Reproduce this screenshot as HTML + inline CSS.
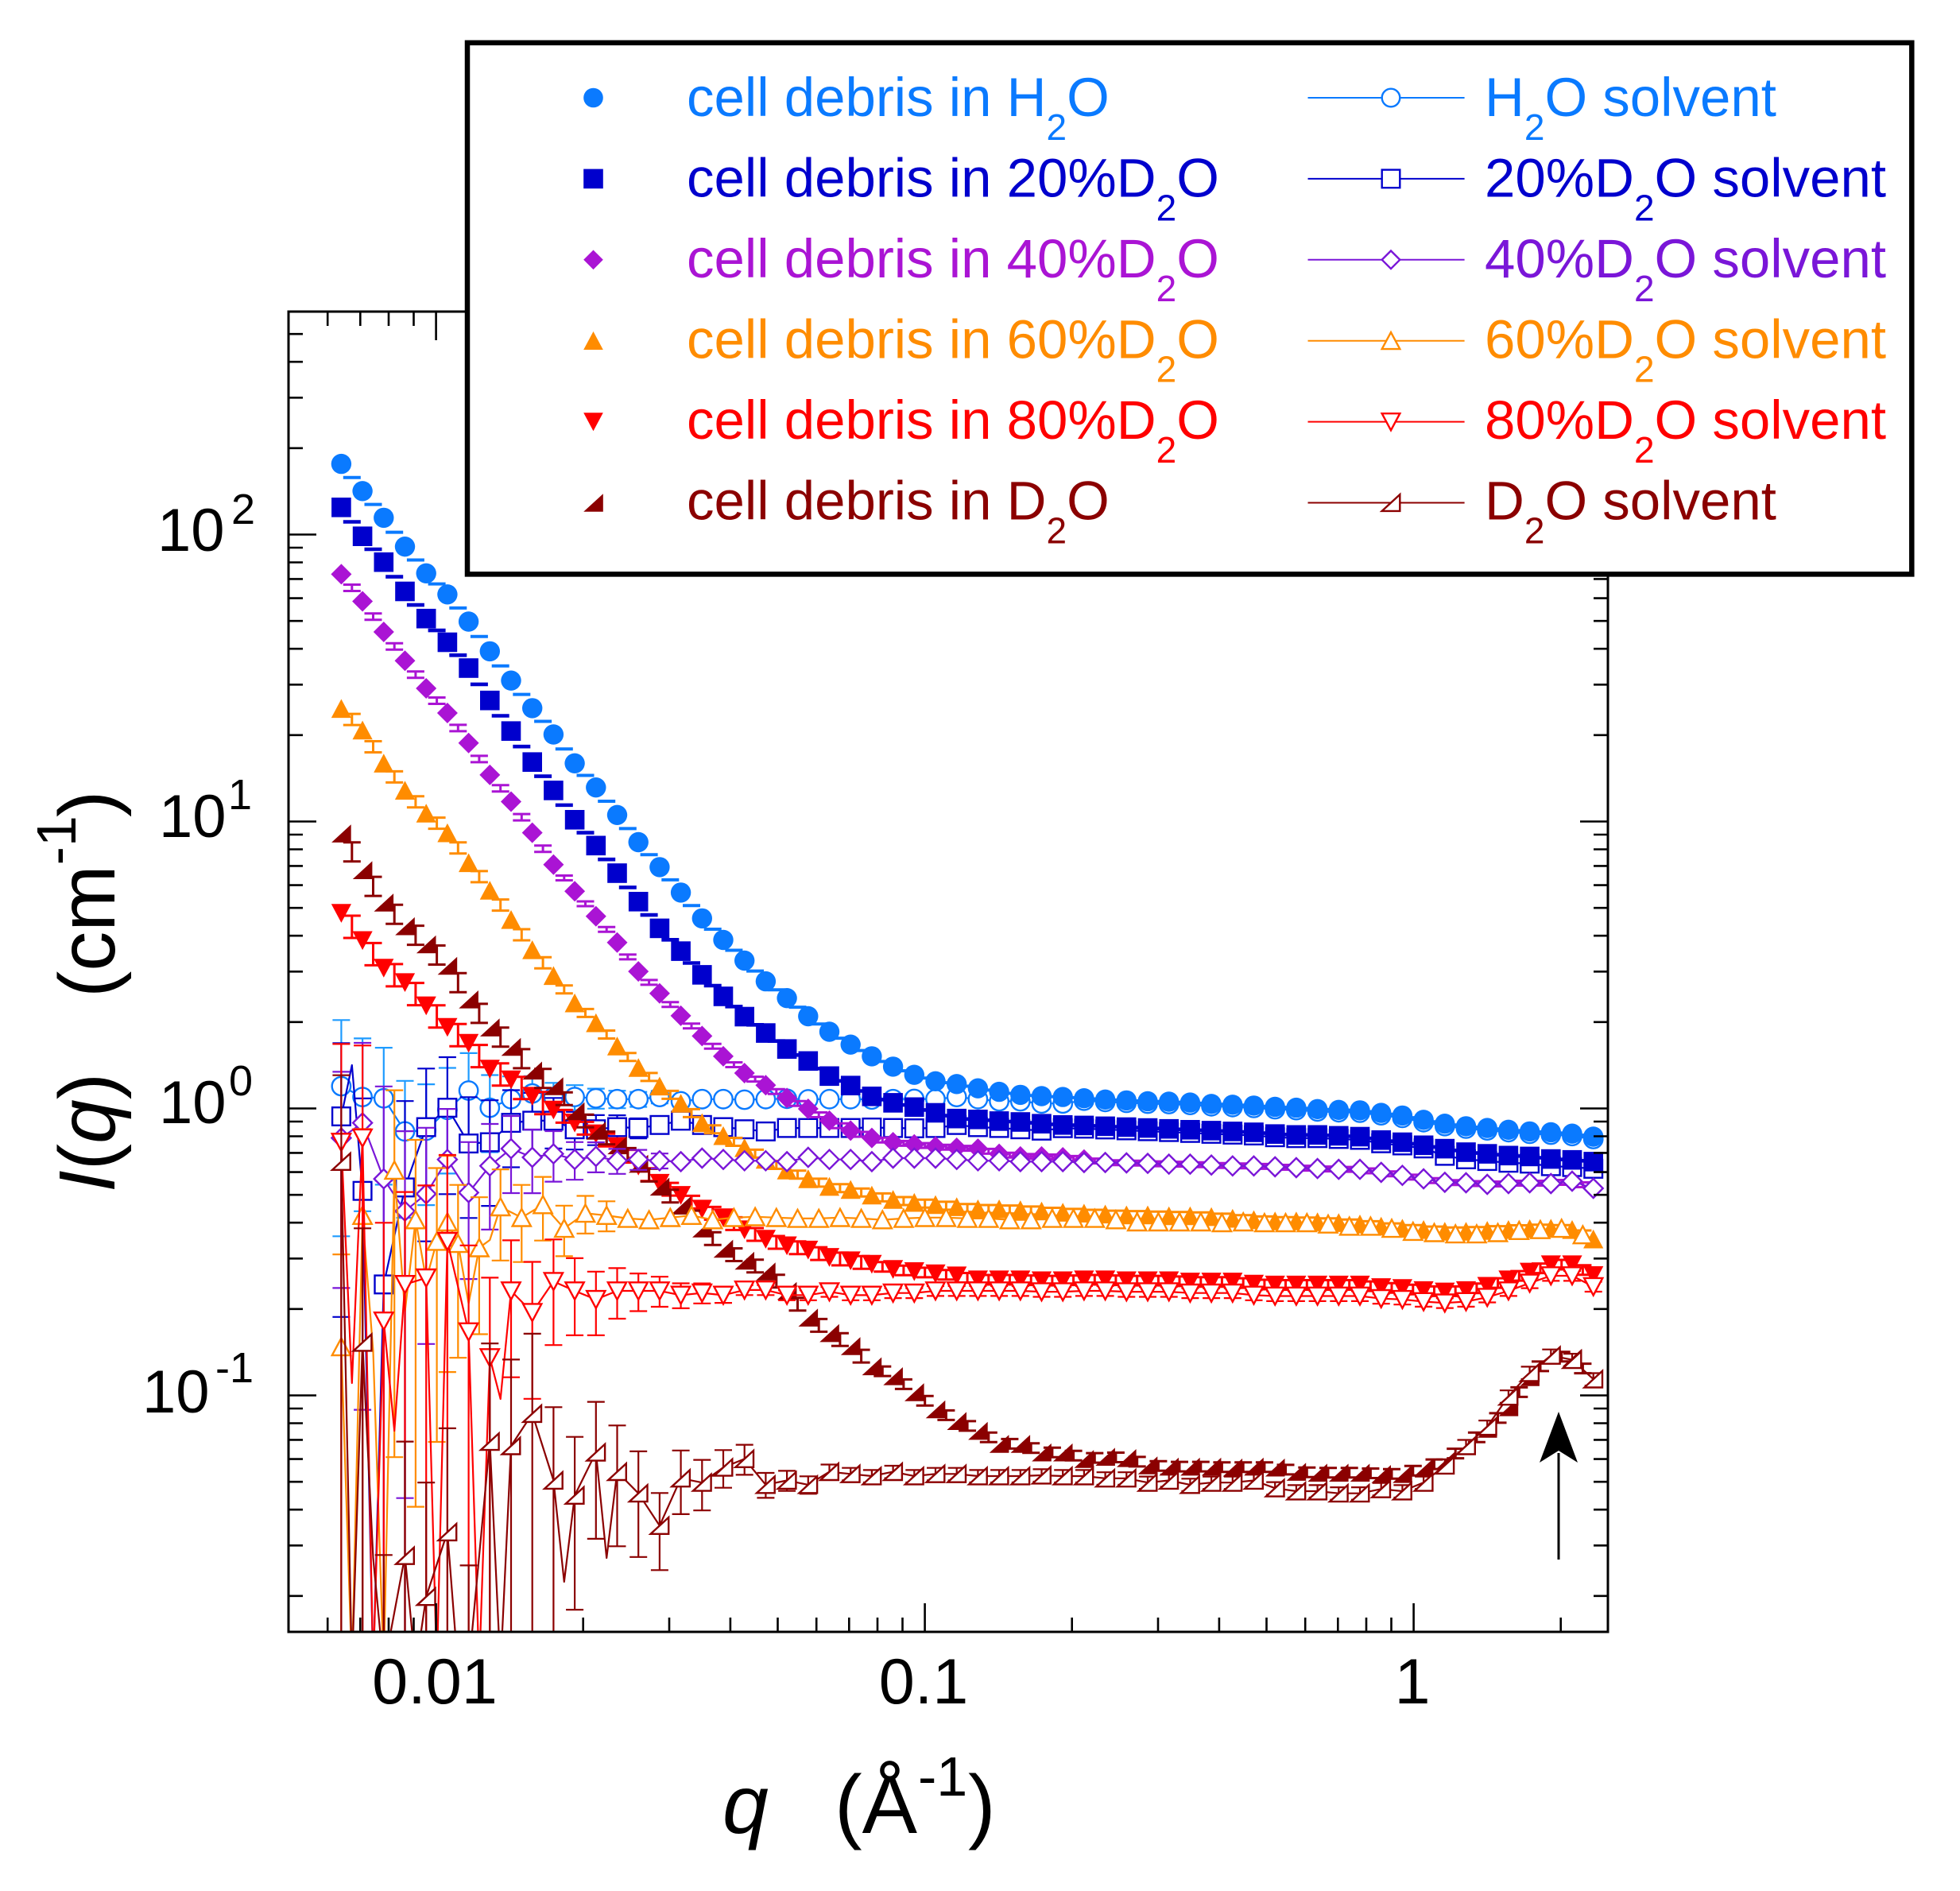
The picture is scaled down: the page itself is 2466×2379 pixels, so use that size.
<!DOCTYPE html>
<html><head><meta charset="utf-8"><title>SANS cell debris</title>
<style>
html,body{margin:0;padding:0;background:#fff;width:2466px;height:2379px;overflow:hidden}
svg{display:block}
text{font-family:"Liberation Sans",Arial,Helvetica,sans-serif}
</style></head><body>
<svg xmlns="http://www.w3.org/2000/svg" width="2466" height="2379" viewBox="0 0 2466 2379">
<defs><clipPath id="pc"><rect x="363" y="392" width="1660" height="1661"/></clipPath></defs>
<rect width="2466" height="2379" fill="#fff"/>
<g id="data" clip-path="url(#pc)"></g>
<g id="axes"></g>
<path d="M1961 1962V1828" stroke="#000" stroke-width="3" fill="none"/>
<polygon points="1961,1776 1985,1840 1961,1825 1937,1840" fill="#000"/>

<g fill="#000">
<text x="198" y="693" font-size="76">10</text><text x="291" y="659" font-size="54">2</text>
<text x="200" y="1053" font-size="76">10</text><text x="287" y="1018" font-size="54">1</text>
<text x="200" y="1413" font-size="76">10</text><text x="288" y="1378" font-size="54">0</text>
<text x="179" y="1777" font-size="76">10</text><text x="271" y="1739" font-size="54">-1</text>
<text x="547" y="2143" font-size="81" text-anchor="middle">0.01</text>
<text x="1162" y="2143" font-size="81" text-anchor="middle">0.1</text>
<text x="1777" y="2143" font-size="81" text-anchor="middle">1</text>
<text y="2306" font-size="104"><tspan x="909" font-style="italic">q</tspan><tspan x="1050">(Å</tspan><tspan x="1155" y="2259" font-size="70">-1</tspan><tspan x="1218" y="2306" font-size="104">)</tspan></text>
<g transform="translate(144,1500) rotate(-90)"><text y="0" font-size="100"><tspan x="0" font-style="italic">I</tspan><tspan>(</tspan><tspan font-style="italic">q</tspan><tspan>)</tspan><tspan x="245">(cm</tspan><tspan font-size="70" dy="-49">-1</tspan><tspan x="472" dy="49" font-size="100">)</tspan></text></g>
</g>

<g id="legend">
<rect x="588" y="53.8" width="1817.3" height="668.6" fill="#fff" stroke="#000" stroke-width="6.5"/>
<g id="legmk"></g>
<g font-size="69">
<text x="864" y="145.8" fill="#0a7aff">cell debris in H<tspan dy="30" font-size="46">2</tspan><tspan dy="-30">O</tspan></text>
<text x="864" y="247.3" fill="#0000cd">cell debris in 20%D<tspan dy="30" font-size="46">2</tspan><tspan dy="-30">O</tspan></text>
<text x="864" y="348.8" fill="#aa14d4">cell debris in 40%D<tspan dy="30" font-size="46">2</tspan><tspan dy="-30">O</tspan></text>
<text x="864" y="450.3" fill="#ff8c00">cell debris in 60%D<tspan dy="30" font-size="46">2</tspan><tspan dy="-30">O</tspan></text>
<text x="864" y="551.8" fill="#ff0000">cell debris in 80%D<tspan dy="30" font-size="46">2</tspan><tspan dy="-30">O</tspan></text>
<text x="864" y="653.3" fill="#8b0000">cell debris in D<tspan dy="30" font-size="46">2</tspan><tspan dy="-30">O</tspan></text>
<text x="1868" y="145.8" fill="#0a7aff">H<tspan dy="30" font-size="46">2</tspan><tspan dy="-30">O solvent</tspan></text>
<text x="1868" y="247.3" fill="#0000cd">20%D<tspan dy="30" font-size="46">2</tspan><tspan dy="-30">O solvent</tspan></text>
<text x="1868" y="348.8" fill="#7a16d8">40%D<tspan dy="30" font-size="46">2</tspan><tspan dy="-30">O solvent</tspan></text>
<text x="1868" y="450.3" fill="#ff8c00">60%D<tspan dy="30" font-size="46">2</tspan><tspan dy="-30">O solvent</tspan></text>
<text x="1868" y="551.8" fill="#ff0000">80%D<tspan dy="30" font-size="46">2</tspan><tspan dy="-30">O solvent</tspan></text>
<text x="1868" y="653.3" fill="#8b0000">D<tspan dy="30" font-size="46">2</tspan><tspan dy="-30">O solvent</tspan></text>
</g>
</g>
</svg>
<script>
(function(){
const NS='http://www.w3.org/2000/svg';
function E(t,a,p){const e=document.createElementNS(NS,t);for(const k in a)e.setAttribute(k,a[k]);p.appendChild(e);return e;}
const XL=363,XR=2023,YT=392,YB=2053;
const LX=v=>1778.6+615*Math.log10(v),LY=v=>1394.5-361*Math.log10(v);
const X0=429.4,DX=26.7,px=i=>X0+DX*i;
const data=document.getElementById('data'),axes=document.getElementById('axes'),legmk=document.getElementById('legmk');
function f(v){return (Math.round(v*10)/10).toString();}
const SZ={o:12.7,s:12.3,d:13,t:12.6,v:12.6,r:12.3};
function mk(g,t,x,y,c,open,s){
 s=s||SZ[t];
 const a=open?{fill:'#fff',stroke:c,'stroke-width':2.4}:{fill:c};
 const h=open?s-1:s;
 if(t==='o'){E('circle',Object.assign({cx:f(x),cy:f(y),r:h},a),g);return;}
 if(t==='s'){E('rect',Object.assign({x:f(x-h),y:f(y-h),width:f(2*h),height:f(2*h)},a),g);return;}
 let p;
 if(t==='d')p=[[0,-h],[h,0],[0,h],[-h,0]];
 else if(t==='t')p=[[-h,h*0.92],[h,h*0.92],[0,-h*0.95]];
 else if(t==='v')p=[[-h,-h*0.92],[h,-h*0.92],[0,h*0.95]];
 else p=[[-h,h*0.92],[h,h*0.92],[h,-h*0.92]];
 E('polygon',Object.assign({points:p.map(q=>f(x+q[0])+','+f(y+q[1])).join(' ')},a),g);
}
// axes
let d='';
for(let n=-3;n<=0;n++)for(let k=1;k<=9;k++){const x=LX(k*Math.pow(10,n));if(x<XL+2||x>XR-2)continue;const L=k==1?36:18;d+='M'+f(x)+' '+YB+'v'+(-L)+'M'+f(x)+' '+YT+'v'+L;}
for(let n=-2;n<=2;n++)for(let k=1;k<=9;k++){const y=LY(k*Math.pow(10,n));if(y<YT+2||y>YB-2)continue;const L=k==1?35:18;d+='M'+XL+' '+f(y)+'h'+L+'M'+XR+' '+f(y)+'h'+(-L);}
E('path',{d:d,stroke:'#000','stroke-width':2.6,fill:'none'},axes);
E('rect',{x:XL,y:YT,width:XR-XL,height:YB-YT,fill:'none',stroke:'#000','stroke-width':3},axes);

// data
const HS=[583.6,617.8,651.4,687.7,721.3,747.8,782.0,819.4,856.2,890.9,924.0,960.3,990.7,1025.3,1059.5,1090.9,1122.9,1155.4,1182.5,1208.5,1234.6,1255.7,1278.5,1298.0,1314.2,1328.9,1341.9,1352.2,1360.3,
1363.8,1369.2,1373.6,1377.4,1379.0,1380.1,1381.7,1383.3,1384.4,1385.5,1386.0,1387.1,1388.8,1389.8,1390.9,1392.5,1393.6,1395.3,1396.3,1396.9,1400.1,1403.4,1408.8,1413.7,1416.9,1419.1,1421.3,1423.4,1424.5,1426.2,1430.0];
const S20=[638.3,674.7,707.2,744.0,778.2,808.0,840.5,881.2,919.7,958.7,994.4,1031.3,1063.8,1098.5,1134.3,1167.9,1196.6,1226.4,1253.5,1279.0,1299.6,1319.7,1334.8,1353.8,1365.7,1379.3,1387.4,1392.8,1400.0,
1407.2,1408.3,1410.4,1411.5,1413.7,1415.3,1415.9,1416.9,1418.0,1419.1,1420.2,1421.3,1422.4,1423.4,1424.5,1426.7,1427.8,1427.8,1428.9,1430.0,1434.3,1437.0,1440.8,1445.1,1449.5,1451.6,1453.8,1454.9,1458.1,1459.2,1461.4];
const O40=[1431.6,1412.6,1483.1,1523.7,1502.0,1458.7,1500.4,1466.8,1445.1,1456.0,1451.6,1458.7,1454.9,1460.3,1458.7,1460.3,1461.4,1457.0,1458.7,1460.3,1460.3,1461.4,1456.0,1458.7,1458.7,1461.4,1457.0,1457.0,1457.0,
1458.7,1460.3,1460.3,1461.4,1461.4,1461.4,1462.5,1462.5,1463.0,1463.6,1464.6,1464.6,1465.7,1466.8,1466.8,1467.9,1469.0,1470.1,1471.1,1471.1,1474.9,1478.7,1483.1,1487.4,1488,1490,1489,1488,1489,1486,1495.0];
const S40=[722.4,756.5,795.0,831.3,866.0,897.0,934.8,974.9,1008.5,1047.6,1087.7,1121.3,1152.7,1185.8,1222.1,1249.7,1277.9,1303.4,1328.9,1350.0,1365.2,1381.4,
1395.0,1409.9,1422.4,1431.6,1437.0,1439.7,1442.4,1444.0,1445.1,1451.6,1454.9,1454.9,1456.0,1458.7];
for(let i=36;i<60;i++)S40.push(O40[i]);
const S60=[891.5,918.6,960.3,994.4,1023.2,1047.9,1085.5,1120.2,1157.0,1195.0,1227.5,
1261.9,1286.9,1316.1,1343.2,1366.5,1388.2,1412.6,1428.9,1444.0,1458.7,1472.2,1483.1,1492.8,1496.6,1503.7,1509.1,1512.9,1515.6,1518.3,
1521.0,1521.0,1522.1,1523.7,1525.3,1526.4,1527.5,1528.6,1528.6,1529.7,1529.7,1530.8,1532.9,1534.6,1536.2,1536.2,1537.3,1538.3,1540.0,1542.7,1545.4,1547.0,1549.2,1549.2,1548.1,1547.0,1545.9,1545.4,1547.0,1558.9];
const O80=[1437.0,1431.6,1661.9,1615.9,1607.7,1561.7,1675.5,1708.0,1624.0,1651.1,1612.1,1624.0,1634.8,1624.0,1624.0,1624.0,1629.4,1626.7,1629.4,1622.9,1622.9,1629.4,1629.4,1625.1,1629.4,1629.4,1626.7,1626.7,1624.0,
1624.0,1624.0,1624.0,1624.0,1625.1,1625.1,1624.0,1624.0,1625.1,1625.1,1625.1,1626.7,1626.7,1626.7,1629.4,1630.5,1630.5,1630.5,1630.5,1630.5,1633.7,1634.8,1637.5,1639.2,1637.5,1632.1,1624.0,1614.2,1605.0,1605.0,1618.6];
const S80=[1148.9,1183.1,1217.8,1236.0,1265.2,1292.3,1312.3,1344.9,1358.4,1379.0,1396.3,1412.6,1426.2,1442.4,1466.8,1488.5,1503.7,1521.0,1531.8,1547.0,1558.9,1567.1,1572.5,1581.7,1586.0,1590.4,1596.9,1599.6,1602.3,1605.0];
for(let i=30;i<60;i++)S80.push(O80[i]-14);
const SD=[1048.6,1094.7,1135.4,1165.2,1188.0,1215.0,1257.3,1292.6,1317.0,1346.8,
1366.5,1398.0,1422.4,1440.8,1464.1,1492.8,1516.7,1545.4,1570.9,1586.0,1599.6,1624.0,1657.6,1677.1,1693.4,1718.8,1731.3,1751.4,1773.0,
1787.7,1800.1,1816.4,1816.4,1827.2,1827.2,1835.4,1832.7,1834.3,1843.5,1845.1,1845.1,1845.1,1846.2,1845.1,1846.2,1851.6,1852.7,1852.7,1852.7,1854.3,1854.3,1846.2,1838.0,1819.1,1797.4,1770.3,1732.4,1705.3,1708.0,1735.1];
const OD=[1461.4,1689.0,2100,1957.3,2008.8,1927.5,2100,1813.7,1819.1,1778.5,1862.5,1881.4,1827.2,1851.6,1878.7,1919.4,1859.8,1865.2,1846.2,1835.4,1867.9,1862.5,1867.9,1851.6,1854.3,1857.0,1851.6,1857.0,1854.3,
1854.3,1857.0,1857.0,1857.0,1856.0,1857.0,1857.0,1859.8,1859.8,1865.2,1862.5,1867.9,1865.2,1865.2,1862.5,1872.2,1876.0,1876.0,1878.7,1878.7,1873.3,1876.0,1865.2,1843.5,1819.1,1794.7,1756.8,1727.0,1705.3,1710.7,1735.1];
const OH=[1366.5,1380.1,1381.7,1423.4,1422.4,1396.3,1372.0,1393.6,1382.8,1375.7,1380.1,1380.1,1381.7,1382.8,1382.8,1380.1,1385.5,1382.8,1382.8,1383.5,1382.8,1382.3,1383.0,1382.8,1382.8,1383.2,1382.8,1382.5,1382.8,1380.1,1382.8,1385.5,1385.5,1388.2,1388.2];
for(let i=35;i<60;i++)OH.push(HS[i]+3);
const O20=[1404.5,1498.2,1615.9,1493.9,1418.0,1393.6,1438.6,1437.0,1412.6,1409.9,1409.9,1420.7,1420.7,1418.0,1419.1,1415.3,1409.9,1415.3,1418.0,1420.7,1423.4,1419.1,1419.1,1419.1,1419.1,1418.5,1419.1,1419.5,1419.1,1415.3,1418.0,1419.1,1420.7,1422.4];
for(let i=34;i<60;i++)O20.push(S20[i]+(i>=52?9:4));

function drawSample(c,t,Y,ef){
 const g=E('g',{},data);let d='';
 for(let i=0;i<Y.length-1;i++){const xm=px(i+0.5),ym=(Y[i]+Y[i+1])/2,e=ef(i);
  d+='M'+f(xm-11)+' '+f(ym-e)+'h22M'+f(xm-11)+' '+f(ym+e)+'h22M'+f(xm)+' '+f(ym-e)+'V'+f(ym+e);}
 E('path',{d:d,stroke:c,'stroke-width':3,fill:'none'},g);
 for(let i=0;i<Y.length;i++)mk(g,t,px(i),Y[i],c,false);
}
function drawSolvent(c,t,pts,ec){
 const g=E('g',{},data);
 const s=pts.slice().sort((a,b)=>a[0]-b[0]);
 E('polyline',{points:s.map(p=>f(px(p[0]))+','+f(p[1])).join(' '),fill:'none',stroke:c,'stroke-width':2.2,'stroke-linejoin':'round'},g);
 let d='';
 for(const p of s){if(!p[2]||!p[3])continue;const x=px(p[0]),r=p[3];const top=p[1]-361*Math.log10(1+r);const bot=r<0.97?p[1]-361*Math.log10(1-r):2100;
  d+='M'+f(x)+' '+f(top)+'V'+f(bot)+'M'+f(x-11)+' '+f(top)+'h22';if(r<0.97)d+='M'+f(x-11)+' '+f(bot)+'h22';}
 if(d)E('path',{d:d,stroke:ec||c,'stroke-width':2.2,fill:'none'},g);
 for(const p of s)if(p[2])mk(g,t,px(p[0]),p[1],c,true);
}
function build(Y,errs,extras,def){const pts=Y.map((y,i)=>[i,y,true,(errs[i]!==undefined?errs[i]:(def||0))]);(extras||[]).forEach(e=>pts.push([e[0],e[1],false,0]));return pts;}

const cH='#0a7aff',c20='#0000cd',c40='#aa14d4',c40s='#7a16d8',c60='#ff8c00',c80='#ff0000',cD='#8b0000';
// solvents under samples
drawSolvent(cH,'o',build(OH,[0.7,0.6,0.5,0.5,0.45,0.4,0.35,0.3,0.2,0.15,0.12,0.1,0.08,0.07,0.06,0.05]),'#1e9bff');
drawSolvent(c20,'s',build(O20,[0.8,1.1,1.3,1.0,0.6,0.5,0.45,0.4,0.3,0.25,0.2,0.15,0.12,0.1,0.08,0.06],[[0.5,1340],[1.5,2100]]));
// samples
drawSample(cH,'o',HS,i=>0.5);
drawSample(c20,'s',S20,i=>0.8);
drawSample(c40,'d',S40,i=>i<10?4:3);
drawSample(c60,'t',S60,i=>i<10?7:5);
drawSample(c80,'v',S80,i=>i<10?14:(i<25?8:6));
drawSample(cD,'r',SD,i=>i<10?12:(i<25?8:6));
// solvents on top
drawSolvent(c40s,'d',build(O40,[0.7,0.9,1.1,0.9,0.7,0.5,0.5,0.4,0.3,0.25,0.2,0.15,0.12,0.1,0.08,0.06]));
const O60=[[0,1694.4,1.1],[1,1529.1,1.0],[2.5,1472.2,0.9],[3.5,1534.6,0.9],[4.5,1561.7,0.8],[5,1537.3,0.7],[5.5,1564.4,0.6],[6.5,1569.8,0.5]];
const o60a=[1518.3,1531.8,1515.6,1545.4,1526.4,1529.1,1532.9,1534.6,1531.8,1529.1,1534.6,1531.8,1530.8,1531.8,1532.9,1532.9,1531.8,1532.9,1534.6,1532.9,1531.8,1531.8];
const e60=[0.35,0.3,0.25,0.2,0.15,0.12];
o60a.forEach((y,k)=>O60.push([7.5+k,y,k<6?e60[k]:0]));
const o60b=[1532.9,1532.9,1534.6,1534.6,1532.9,1532.9,1532.9,1534.6,1537.3,1537.3,1537.3,1537.3,1538.3,1537.3,1538.3,1538.3,1538.3,1540.0,1542.7,1542.7,1545.4,1549.2,1550.8,1552.4,1552.4,1550.8,1548.1,1547.0,1545.4,1553.5];
o60b.forEach((y,k)=>O60.push([29.5+k,y,0]));
const p60=O60.map(p=>[p[0],p[1],true,p[2]]);
[[0.5,2100],[1.5,1700],[2,2100],[3,1650],[4,1610],[6,1640],[7,1560]].forEach(e=>p60.push([e[0],e[1],false,0]));
drawSolvent(c60,'t',p60);
drawSolvent(c80,'v',build(O80,[1.2,1.1,1.2,1.1,1.1,1.0,1.0,0.9,0.5,0.5,0.4,0.3,0.25,0.2,0.15,0.12,0.1,0.08,0.06],[[0.5,1740],[1.5,2100],[2.5,1800],[4.5,2100],[6.5,2100],[7.5,1760]],0.04));
drawSolvent(cD,'r',build(OD,[1.0,1.5,1.5,1.5,1.5,1.3,1.3,1.2,1.0,0.9,0.8,0.6,0.5,0.45,0.4,0.3,0.25,0.2,0.15,0.12,0.1,0.08,0.07,0.06],[[0.5,2100],[1.5,1960],[3.5,2100],[5.5,2100],[7.5,2100],[10.5,1990],[12.5,1960]],0.05));

// legend markers
const C=[cH,c20,c40,c60,c80,cD],CS=[cH,c20,c40s,c60,c80,cD],T=['o','s','d','t','v','r'];
for(let k=0;k<6;k++){const cy=123+101.9*k;
 mk(legmk,T[k],746.5,cy,C[k],false,12.3);
 E('line',{x1:1645.5,x2:1842.6,y1:f(cy),y2:f(cy),stroke:CS[k],'stroke-width':2},legmk);
 mk(legmk,T[k],1750,cy,CS[k],true,12.3);
}
})();
</script>
</body></html>
